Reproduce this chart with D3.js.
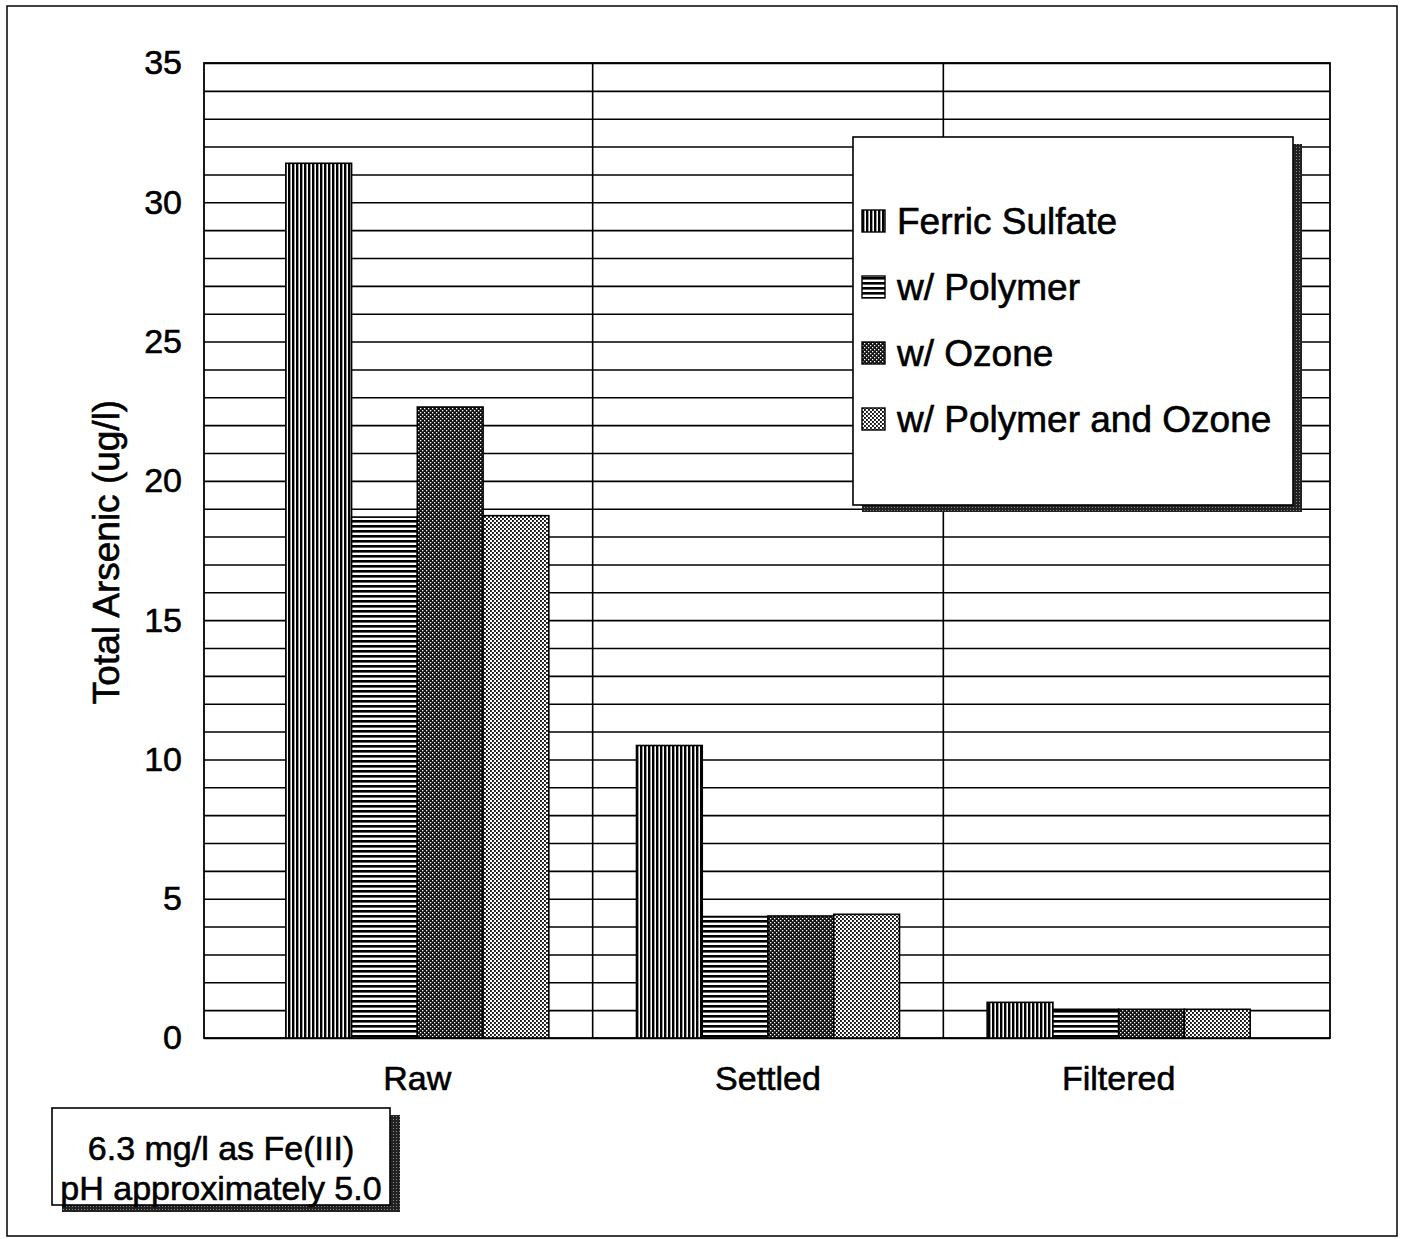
<!DOCTYPE html>
<html>
<head>
<meta charset="utf-8">
<script src="https://cdn.jsdelivr.net/npm/d3@7/dist/d3.min.js"></script>
<style>
  html, body { margin: 0; padding: 0; background: #fff; }
  svg { display: block; font-family: Arial, "Liberation Sans", sans-serif; }
  svg text { stroke: #000; stroke-width: 0.6px; fill: #000; }
</style>
</head>
<body>
<svg id="chart" width="1405" height="1239"></svg>
<script>
// ---- data ----
const categories = ["Raw", "Settled", "Filtered"];
const seriesNames = ["Ferric Sulfate", "w/ Polymer", "w/ Ozone", "w/ Polymer and Ozone"];
const ferricSulfate = [31.4, 10.5, 1.28];
const withPolymer = [18.7, 4.36, 1.03];
const withOzone = [22.65, 4.38, 1.03];
const withPolymerOzone = [18.75, 4.44, 1.03];
const yTickValues = [0, 5, 10, 15, 20, 25, 30, 35];
const yTitle = "Total Arsenic (ug/l)";
const noteLines = ["6.3 mg/l as Fe(III)", "pH approximately 5.0"];

const seriesValues = [ferricSulfate, withPolymer, withOzone, withPolymerOzone];
const patternIds = ["pVert", "pHoriz", "pDark", "pLight"];

const svg = d3.select("#chart");
const defs = svg.append("defs");

// patterns
function pattern(id, w, h, bg, shapes) {
  const p = defs.append("pattern").attr("id", id).attr("patternUnits", "userSpaceOnUse")
    .attr("width", w).attr("height", h);
  p.append("rect").attr("width", w).attr("height", h).attr("fill", bg);
  shapes.forEach(s => p.append("rect").attr("x", s[0]).attr("y", s[1]).attr("width", s[2]).attr("height", s[3]).attr("fill", s[4]));
}
pattern("pVert", 4, 4, "#fff", [[0, 0, 2.4, 4, "#000"]]);
pattern("pHoriz", 5, 5, "#fff", [[0, 0, 5, 2.6, "#000"]]);
pattern("pDark", 4, 4, "#111", [[0, 0, 1.3, 1.3, "#fff"], [2, 2, 1.3, 1.3, "#fff"]]);
pattern("pLight", 4, 4, "#fff", [[0, 0, 1.9, 1.9, "#111"], [2, 2, 1.9, 1.9, "#111"]]);
pattern("pShadow", 3, 3, "#222", [[0, 0, 1, 1, "#888"]]);

// outer frame
svg.append("rect").attr("x", 7).attr("y", 6).attr("width", 1390).attr("height", 1230)
  .attr("fill", "none").attr("stroke", "#000").attr("stroke-width", 1.5);

// plot area
const plotL = 204, plotR = 1330, plotT = 63, plotB = 1038;
const y = d3.scaleLinear().domain([0, 35]).range([plotB, plotT]);
const x = d3.scaleBand().domain(categories).range([242, 1294]).paddingInner(0.25).paddingOuter(0.125);
const xs = d3.scaleBand().domain(seriesNames).range([0, x.bandwidth()]);

// gridlines (every 1 unit)
const gridAxis = d3.axisLeft(y).tickValues(d3.range(0, 36, 1)).tickSize(-(plotR - plotL)).tickFormat("");
const gg = svg.append("g").attr("transform", `translate(${plotL},0)`).call(gridAxis);
gg.select(".domain").remove();
gg.selectAll("line").attr("stroke", "#000").attr("stroke-width", 1.6);

// vertical dividers between categories
const step = x.step();
const dividers = categories.slice(1).map(c => x(c) - step * x.paddingInner() / 2);
svg.append("g").selectAll("line").data(dividers).join("line")
  .attr("x1", d => d).attr("x2", d => d).attr("y1", plotT).attr("y2", plotB)
  .attr("stroke", "#000").attr("stroke-width", 1.6);

// frame of plot
svg.append("rect").attr("x", plotL).attr("y", plotT).attr("width", plotR - plotL).attr("height", plotB - plotT)
  .attr("fill", "none").attr("stroke", "#000").attr("stroke-width", 1.8);

// bars
const bars = svg.append("g");
seriesNames.forEach((s, si) => {
  bars.append("g").selectAll("rect").data(categories).join("rect")
    .attr("x", c => x(c) + xs(s))
    .attr("width", xs.bandwidth())
    .attr("y", (c, i) => y(seriesValues[si][i]))
    .attr("height", (c, i) => y(0) - y(seriesValues[si][i]))
    .attr("fill", `url(#${patternIds[si]})`)
    .attr("stroke", "#000").attr("stroke-width", 1.6);
});

// y tick labels
const yAxis = d3.axisLeft(y).tickValues(yTickValues).tickSize(0).tickPadding(22).tickFormat(d3.format("d"));
const ya = svg.append("g").attr("transform", `translate(${plotL},0)`).call(yAxis);
ya.select(".domain").remove();
ya.selectAll("text").attr("font-size", 34).attr("font-family", "Arial, 'Liberation Sans', sans-serif");

// x labels
const xAxis = d3.axisBottom(x).tickSize(0).tickPadding(28);
const xa = svg.append("g").attr("transform", `translate(0,${plotB})`).call(xAxis);
xa.select(".domain").remove();
xa.selectAll("text").attr("font-size", 34).attr("font-family", "Arial, 'Liberation Sans', sans-serif");

// y title
svg.append("text").attr("transform", `translate(119,552) rotate(-90)`)
  .attr("text-anchor", "middle").attr("font-size", 37).text(yTitle);

// legend
const lg = svg.append("g");
const lx = 853, ly = 137, lw = 440, lh = 368;
lg.append("rect").attr("x", lx + 9).attr("y", ly + 7).attr("width", lw).attr("height", lh).attr("fill", "url(#pShadow)");
lg.append("rect").attr("x", lx).attr("y", ly).attr("width", lw).attr("height", lh)
  .attr("fill", "#fff").attr("stroke", "#000").attr("stroke-width", 1.6);
const rows = lg.selectAll("g.row").data(seriesNames).join("g").attr("class", "row")
  .attr("transform", (d, i) => `translate(${lx + 9},${221 + i * 66})`);
rows.append("rect").attr("x", 0).attr("y", -11).attr("width", 23).attr("height", 22)
  .attr("fill", (d, i) => `url(#${patternIds[i]})`).attr("stroke", "#000").attr("stroke-width", 1.4);
rows.append("text").attr("x", 35).attr("y", 0).attr("dy", "0.36em").attr("font-size", 37).text(d => d);

// note box
const nx = 52, ny = 1108, nw = 338, nh = 97;
svg.append("rect").attr("x", nx + 10).attr("y", ny + 7).attr("width", nw).attr("height", nh).attr("fill", "url(#pShadow)");
svg.append("rect").attr("x", nx).attr("y", ny).attr("width", nw).attr("height", nh)
  .attr("fill", "#fff").attr("stroke", "#000").attr("stroke-width", 1.6);
svg.append("g").selectAll("text").data(noteLines).join("text")
  .attr("x", nx + nw / 2).attr("y", (d, i) => 1160 + i * 40)
  .attr("text-anchor", "middle").attr("font-size", 34).text(d => d);
</script>
</body>
</html>
